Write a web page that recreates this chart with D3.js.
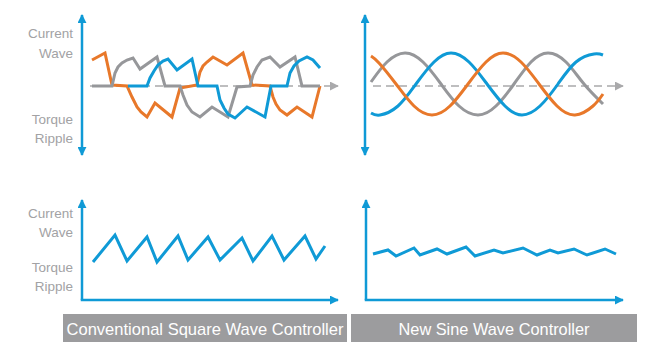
<!DOCTYPE html>
<html>
<head>
<meta charset="utf-8">
<script src="https://cdn.jsdelivr.net/npm/d3@7"></script>
<style>
  html, body { margin: 0; padding: 0; background: #ffffff; }
  svg { display: block; }
  text { font-family: "Liberation Sans", Arial, Helvetica, sans-serif; }
</style>
</head>
<body>
<svg id="chart" width="646" height="342"></svg>
<script>
// ---------------- DATA ----------------
const axisLabelsUpper = ["Current", "Wave"];
const axisLabelsLower = ["Torque", "Ripple"];
const panelTitles = ["Conventional Square Wave Controller", "New Sine Wave Controller"];
const seriesNames = ["Phase A", "Phase B", "Phase C"];

// Top-left: conventional square-wave phase currents [t, value]
const squareOrange = [[2,6.5],[15,8.25],[22,0.25],[37,0],[42,-2.75],[47,-5.25],[51,-6.5],[57,-7.75],[65,-4.25],[82,-7.75],[90,-0.5],[107,0.25],[110,3.5],[113,5],[117,6],[123,7.25],[137,5.25],[153,8.25],[162,0.25],[180,0],[183,-2.75],[186,-4.5],[190,-6],[197,-7.25],[207,-5.25],[222,-7.75],[230,0]];
const squareGray = [[2,0],[22,0],[25,3.25],[28,4.75],[32,5.75],[37,6.5],[43,7],[50,4.25],[67,7.25],[75,0],[90,0],[93,-2.25],[97,-4.75],[102,-6.5],[110,-7.75],[122,-5.25],[138,-7.75],[147,-0.25],[160,0],[163,2.75],[167,4.75],[172,6.5],[180,7.25],[190,4.75],[205,7.25],[212,0],[230,0]];
const squareBlue = [[38,0],[57,0],[60,2],[64,3.75],[68,5.25],[73,6.25],[78,6.75],[87,4],[102,6.75],[108,0],[127,0],[130,-3.5],[134,-5.5],[138,-7],[145,-8],[157,-5.25],[175,-7.75],[181,0],[197,0],[200,3.25],[204,5],[209,6.25],[217,7.25],[223,6.5],[230,4.5]];

// Top-right: sine-wave phase currents [t, value]
const sineGray = [[6,1],[22,6],[40,8.25],[58,6],[76,0.5],[94,-5],[113,-7.25],[131,-5],[149,0.5],[166,6],[183,8.25],[201,6],[219,0.5],[238,-4.5]];
const sineBlue = [[6,-6.75],[15,-7.25],[33,-5],[51,0.5],[69,6],[86,8.25],[104,6],[122,0.5],[140,-5],[157,-7.25],[175,-5],[193,0.5],[211,6],[229,8],[238,7.75]];
const sineOrange = [[6,7.5],[14,5.75],[31,0.5],[49,-5],[67,-7.25],[85,-5],[103,0.5],[121,6],[138,8.25],[156,6],[174,0.5],[192,-5],[210,-7.25],[228,-5],[238,-2]];

// Bottom: resulting torque ripple [t, value]
const rippleSquare = [[3,3.8],[25,6.5],[37,3.9],[57,6.3],[67,3.8],[88,6.4],[98,4.0],[118,6.3],[130,4.0],[152,6.2],[163,3.9],[182,6.4],[194,4.0],[215,6.4],[226,4.1],[235,5.4]];
const rippleSine = [[8,4.6],[23,5.0],[31,4.4],[49,5.2],[55,4.5],[72,5.1],[82,4.6],[101,5.3],[110,4.4],[129,5.0],[138,4.7],[158,5.2],[172,4.5],[185,5.0],[193,4.7],[209,5.1],[222,4.5],[240,5.1],[251,4.6]];

// ---------------- STYLE ----------------
const BLUE = "#0f9ad6", ORANGE = "#e8782a", GRAY = "#96979a";
const LABEL = "#a2a2a4", DASH = "#a9a9ab", BOX = "#9c9c9e";

const svg = d3.select("#chart");
const defs = svg.append("defs");
function marker(id, color, orient) {
  defs.append("marker").attr("id", id)
    .attr("viewBox", "0 0 10 10").attr("refX", 9).attr("refY", 5)
    .attr("markerUnits", "userSpaceOnUse")
    .attr("markerWidth", 9).attr("markerHeight", 9)
    .attr("orient", orient)
    .append("path").attr("d", "M0,0 L10,5 L0,10 Z").attr("fill", color);
}
marker("arBlue", BLUE, "auto-start-reverse");
marker("arGray", DASH, "auto");

// ---------------- SCALES ----------------
const xLeft = d3.scaleLinear().domain([0, 250]).range([90, 340]);
const xRight = d3.scaleLinear().domain([0, 250]).range([365, 615]);
const yTop = d3.scaleLinear().domain([-10, 10]).range([126, 46]);
const yBot = d3.scaleLinear().domain([0, 10]).range([300, 200]);

const axisLeftX = [82, 365];

function drawLabels(x, yUpper, yLower) {
  const g = svg.append("g").attr("fill", LABEL).attr("font-size", 13.5).attr("text-anchor", "end");
  axisLabelsUpper.forEach((t, i) => g.append("text").attr("x", x).attr("y", yUpper[i]).text(t));
  axisLabelsLower.forEach((t, i) => g.append("text").attr("x", x).attr("y", yLower[i]).text(t));
}
drawLabels(73, [38, 57.5], [123.5, 142.5]);
drawLabels(73, [218, 236.5], [272, 290.5]);

function line(x, y, data, curve) {
  return d3.line().x(d => x(d[0])).y(d => y(d[1])).curve(curve)(data);
}

// ---- Top panels ----
[xLeft, xRight].forEach((x, i) => {
  const ax = axisLeftX[i];
  // dashed midline with arrow
  svg.append("line")
    .attr("x1", ax + 8).attr("x2", (i === 0 ? 338 : 623))
    .attr("y1", yTop(0)).attr("y2", yTop(0))
    .attr("stroke", DASH).attr("stroke-width", 1.6)
    .attr("stroke-dasharray", "8,5")
    .attr("marker-end", "url(#arGray)");
});

function wave(x, y, data, color, curve) {
  svg.append("path").attr("d", line(x, y, data, curve))
    .attr("fill", "none").attr("stroke", color).attr("stroke-width", 3)
    .attr("stroke-linejoin", "miter").attr("stroke-linecap", "butt");
}
wave(xLeft, yTop, squareOrange, ORANGE, d3.curveLinear);
wave(xLeft, yTop, squareGray, GRAY, d3.curveLinear);
wave(xLeft, yTop, squareBlue, BLUE, d3.curveLinear);

wave(xRight, yTop, sineGray, GRAY, d3.curveNatural);
wave(xRight, yTop, sineBlue, BLUE, d3.curveNatural);
wave(xRight, yTop, sineOrange, ORANGE, d3.curveNatural);

// vertical double arrows
axisLeftX.forEach(ax => {
  svg.append("line").attr("x1", ax).attr("x2", ax).attr("y1", 155).attr("y2", 15)
    .attr("stroke", BLUE).attr("stroke-width", 2.5)
    .attr("marker-start", "url(#arBlue)").attr("marker-end", "url(#arBlue)");
});

// ---- Bottom panels ----
const bottomEnds = [338, 623];
axisLeftX.forEach((ax, i) => {
  const ax2 = i === 0 ? 82 : 366;
  svg.append("line").attr("x1", ax2).attr("x2", ax2).attr("y1", yBot(0)).attr("y2", 200)
    .attr("stroke", BLUE).attr("stroke-width", 2.5).attr("marker-end", "url(#arBlue)");
  svg.append("line").attr("x1", ax2 - 1.25).attr("x2", bottomEnds[i]).attr("y1", yBot(0)).attr("y2", yBot(0))
    .attr("stroke", BLUE).attr("stroke-width", 2.5).attr("marker-end", "url(#arBlue)");
});
wave(xLeft, yBot, rippleSquare, BLUE, d3.curveLinear);
wave(xRight, yBot, rippleSine, BLUE, d3.curveLinear);

// ---- Title boxes ----
const boxes = [[63, 347], [351, 637]];
boxes.forEach((b, i) => {
  svg.append("rect").attr("x", b[0]).attr("y", 314).attr("width", b[1] - b[0]).attr("height", 28).attr("fill", BOX);
  const t = svg.append("text").attr("x", (b[0] + b[1]) / 2).attr("y", 335)
    .attr("text-anchor", "middle").attr("fill", "#ffffff").attr("font-size", 17)
    .text(panelTitles[i]);
  t.attr("textLength", i === 0 ? 277 : 191).attr("lengthAdjust", "spacingAndGlyphs");
});
</script>
</body>
</html>
